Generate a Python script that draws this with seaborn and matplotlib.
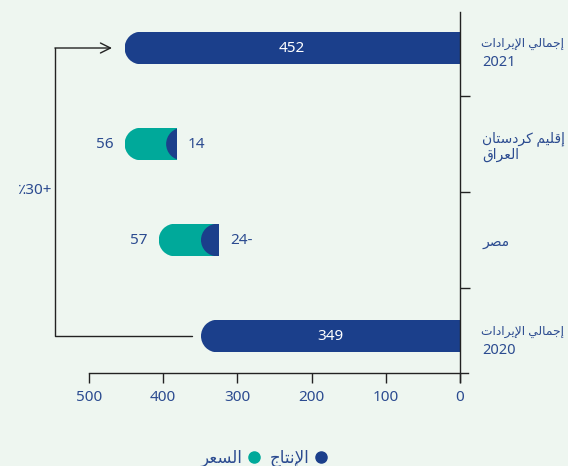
import matplotlib
matplotlib.use('Agg')
import matplotlib.pyplot as plt
import seaborn as sns
import pandas as pd
from matplotlib.patches import Ellipse, Rectangle
from matplotlib.lines import Line2D

# values
rev_2020 = 349
rev_2021 = 452
regions = ['مصر', 'إقليم كردستان\nالعراق']   # in waterfall order, bottom to top
production = [-24, 14]
price = [57, 56]
total_label = 'إجمالي الإيرادات'
years = ['2021', '2020']
xticks = [0, 100, 200, 300, 400, 500]
legend_labels = ['الإنتاج', 'السعر']

NAVY = '#1b3f8b'
TEAL = '#00a99a'
TEXT = '#2b4b90'
LINE = '#222222'
BG = '#eef6f0'

# matplotlib has no arabic shaping, so map letters to presentation forms
FORMS = {
    'ا': ('\uFE8D', '\uFE8E', None, None),
    'أ': ('\uFE83', '\uFE84', None, None),
    'إ': ('\uFE87', '\uFE88', None, None),
    'د': ('\uFEA9', '\uFEAA', None, None),
    'ر': ('\uFEAD', '\uFEAE', None, None),
    'ت': ('\uFE95', '\uFE96', '\uFE97', '\uFE98'),
    'ج': ('\uFE9D', '\uFE9E', '\uFE9F', '\uFEA0'),
    'س': ('\uFEB1', '\uFEB2', '\uFEB3', '\uFEB4'),
    'ص': ('\uFEB9', '\uFEBA', '\uFEBB', '\uFEBC'),
    'ع': ('\uFEC9', '\uFECA', '\uFECB', '\uFECC'),
    'ق': ('\uFED5', '\uFED6', '\uFED7', '\uFED8'),
    'ك': ('\uFED9', '\uFEDA', '\uFEDB', '\uFEDC'),
    'ل': ('\uFEDD', '\uFEDE', '\uFEDF', '\uFEE0'),
    'م': ('\uFEE1', '\uFEE2', '\uFEE3', '\uFEE4'),
    'ن': ('\uFEE5', '\uFEE6', '\uFEE7', '\uFEE8'),
    'ي': ('\uFEF1', '\uFEF2', '\uFEF3', '\uFEF4'),
}
LAM_ALEF = {'ا': ('\uFEFB', '\uFEFC'), 'أ': ('\uFEF7', '\uFEF8'), 'إ': ('\uFEF9', '\uFEFA')}


def shape_line(text):
    if not any(c in FORMS for c in text):
        return text
    chars = []
    i = 0
    while i < len(text):
        if text[i] == 'ل' and i + 1 < len(text) and text[i + 1] in LAM_ALEF:
            chars.append(('LA', text[i + 1]))
            i += 2
        else:
            chars.append((text[i], None))
            i += 1
    out = []
    for k, (c, alef) in enumerate(chars):
        prev = chars[k - 1][0] if k > 0 else None
        nxt = chars[k + 1][0] if k + 1 < len(chars) else None
        joins_prev = prev in FORMS and FORMS[prev][2] is not None
        if c == 'LA':
            out.append(LAM_ALEF[alef][1 if joins_prev else 0])
            continue
        if c not in FORMS:
            out.append(c)
            continue
        f = FORMS[c]
        joins_next = f[2] is not None and (nxt in FORMS or nxt == 'LA')
        if joins_prev and joins_next:
            out.append(f[3])
        elif joins_prev:
            out.append(f[1])
        elif joins_next:
            out.append(f[2])
        else:
            out.append(f[0])
    return ''.join(reversed(out))


def shape(text):
    return '\n'.join(shape_line(t) for t in text.split('\n'))


sns.set_theme(style="white")
plt.rcParams['font.family'] = ['Noto Sans', 'DejaVu Sans']

# waterfall segments, from 2020 up to 2021
running = rev_2020
seg = []
for name, p, q in zip(regions, production, price):
    start = running + min(p, 0)
    seg.append((name, start, abs(p), abs(p) + q, p, q))
    running += p + q
seg = seg[::-1]  # top to bottom

cats = [f'{total_label} {years[0]}'] + [s[0] for s in seg] + [f'{total_label} {years[1]}']
starts = [0] + [s[1] for s in seg] + [0]
widths = [rev_2021] + [s[3] for s in seg] + [rev_2020]
colors = [NAVY, TEAL, TEAL, NAVY]
df = pd.DataFrame({'cat': cats, 'width': widths})

fig = plt.figure(figsize=(5.68, 4.66), dpi=100)
fig.patch.set_facecolor(BG)
ax = fig.add_axes([89 / 568, 1 - 373 / 466, (468 - 89) / 568, (373 - 12) / 466])
ax.set_facecolor(BG)

H = 0.34
sns.barplot(data=df, x='width', y='cat', hue='cat', palette=colors, orient='h',
            width=H, saturation=1, legend=False, ax=ax)
for p, s in zip(ax.patches, starts):
    p.set_x(s)
# production part on top of the regional bars
ax.barh([1, 2], [s[2] for s in seg], left=[s[1] for s in seg], height=H, color=NAVY)

ax.set_xlim(500, -11)
ax.set_ylim(3.385, -0.375)

# round the left end of every bar
bb = ax.get_window_extent()
px_x = bb.width / 511
px_y = bb.height / 3.76
r = (H / 2 * px_y) / px_x
for p in list(ax.patches):
    a, w, y0 = p.get_x(), p.get_width(), p.get_y()
    b = a + w
    clip = Rectangle((a, y0), w, H, transform=ax.transData)
    cap = Ellipse((b - r, y0 + H / 2), 2 * r, H, color=p.get_facecolor(),
                  zorder=p.get_zorder(), lw=0)
    ax.add_patch(cap)
    cap.set_clip_path(clip)
    p.set_width(max(w - r, 0))
    p.set_linewidth(0)

# value labels
ax.text(rev_2021 / 2, 0, str(rev_2021), color='white', ha='center', va='center', fontsize=11)
ax.text(rev_2020 / 2, 3, str(rev_2020), color='white', ha='center', va='center', fontsize=11)
for i, s in enumerate(seg):
    y = i + 1
    ax.annotate(str(s[5]), (s[1] + s[3], y), xytext=(-8, 0), textcoords='offset points',
                ha='right', va='center', color=TEXT, fontsize=11)
    pv = s[4]
    ax.annotate(f'{abs(pv)}-' if pv < 0 else str(pv), (s[1], y), xytext=(8, 0),
                textcoords='offset points', ha='left', va='center', color=TEXT, fontsize=11)

# bracket arrow from 2020 to 2021
bx = 546
ax.plot([rev_2020 + 12, bx, bx], [3, 3, 0], color=LINE, lw=1, clip_on=False)
ax.annotate('', xy=(rev_2021 + 17, 0), xytext=(bx, 0), annotation_clip=False,
            arrowprops=dict(arrowstyle='->', color=LINE, lw=1, mutation_scale=18,
                            shrinkA=0, shrinkB=0))
pct = round((rev_2021 - rev_2020) / rev_2020 * 100)
ax.text(bx + 4, 1.48, f'\u066A{pct}+', ha='right', va='center', color=TEXT, fontsize=11)

# axes
for side in ['left', 'top']:
    ax.spines[side].set_visible(False)
ax.spines['right'].set_position(('data', 0))
ax.spines['right'].set_bounds(-0.375, 3.48)
for side in ['right', 'bottom']:
    ax.spines[side].set_color(LINE)
    ax.spines[side].set_linewidth(1)
ax.set_xticks(xticks)
ax.tick_params(axis='x', direction='out', length=7, width=1, color=LINE,
               labelcolor=TEXT, labelsize=11, pad=5, bottom=True)
ax.yaxis.tick_right()
ax.set_yticks(range(4))
ax.set_yticklabels([''] + [shape(s[0]) for s in seg] + [''])
ax.set_yticks([0.5, 1.5, 2.5], minor=True)
ax.tick_params(axis='y', which='major', length=0, pad=16, labelcolor=TEXT, labelsize=10)
ax.tick_params(axis='y', which='minor', direction='out', length=7, width=1, color=LINE, right=True)
ax.set_xlabel('')
ax.set_ylabel('')

# the two total rows: long arabic line a bit smaller, year below it
for y, yr in [(0, years[0]), (3, years[1])]:
    ax.annotate(shape(total_label), (0, y - 0.05), xytext=(15, 0), textcoords='offset points',
                ha='left', va='center', color=TEXT, fontsize=8.8, annotation_clip=False)
    ax.annotate(yr, (0, y + 0.15), xytext=(16, 0), textcoords='offset points',
                ha='left', va='center', color=TEXT, fontsize=10.5, annotation_clip=False)

handles = [Line2D([], [], marker='o', ls='', color=TEAL, markersize=8),
           Line2D([], [], marker='o', ls='', color=NAVY, markersize=8)]
fig.legend(handles, [shape(legend_labels[1]), shape(legend_labels[0])], loc='center',
           bbox_to_anchor=(0.465, 0.017), ncol=2, frameon=False, markerfirst=False,
           handlelength=0.8, handletextpad=0.25, columnspacing=0.6,
           labelcolor=TEXT, fontsize=12)

fig.savefig('out.png', dpi=100, facecolor=BG)
